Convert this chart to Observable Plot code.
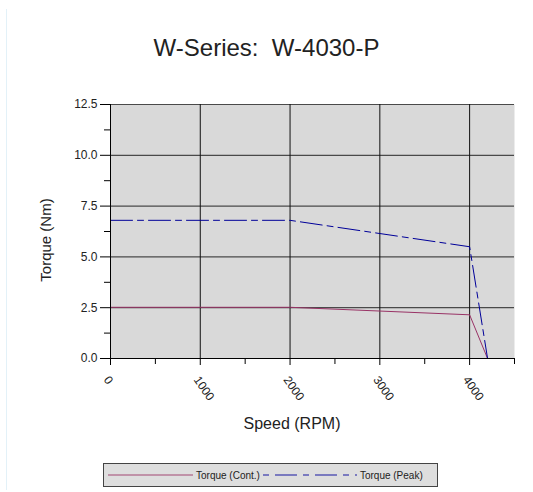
<!DOCTYPE html>
<html><head><meta charset="utf-8">
<script src="https://cdn.jsdelivr.net/npm/d3@7"></script>
<script src="https://cdn.jsdelivr.net/npm/@observablehq/plot@0.6"></script>
<style>
body{margin:0;background:#fff;font-family:"Liberation Sans",Arial,sans-serif;}
#wrap{position:relative;width:533px;height:492px;overflow:hidden;background:#fff}
#vline{position:absolute;left:6px;top:9px;width:1px;height:481px;background:#e3f1f8}
#title{position:absolute;left:0;top:34px;width:533px;text-align:center;font-size:24px;color:#222;white-space:pre}
#chart{position:absolute;left:0;top:0}
#xlabel{position:absolute;left:192px;width:200px;top:415px;text-align:center;font-size:16px;color:#222}
#ylabel{position:absolute;left:45px;top:240px;font-size:15px;color:#222;transform:translate(-50%,-50%) rotate(-90deg);white-space:nowrap}
#legend{position:absolute;left:103px;top:463px;width:333px;height:22px;border:1px solid #444;background:#dedede;font-size:10px;color:#222;display:flex;align-items:center;white-space:nowrap}
#legend svg{display:block}
</style>
</head><body>
<div id="wrap">
<div id="vline"></div>
<div id="title">W-Series:  W-4030-P</div>
<div id="chart"></div>
<div id="xlabel">Speed (RPM)</div>
<div id="ylabel">Torque (Nm)</div>
<div id="legend"></div>
</div>
<script>
const seriesNames = ["Torque (Cont.)", "Torque (Peak)"];
const speedCont = [0, 2000, 4000, 4200];
const torqueCont = [2.52, 2.52, 2.15, 0];
const speedPeak = [0, 2000, 4000, 4200];
const torquePeak = [6.8, 6.8, 5.5, 0];
const xTicks = [0, 1000, 2000, 3000, 4000];
const xMinor = [500, 1500, 2500, 3500, 4500];
const yTicks = [0, 2.5, 5, 7.5, 10, 12.5];
const yMinor = [1.25, 3.75, 6.25, 8.75, 11.25];

const colors = ["#993366", "#000099"];
const dashes = [null, "22,5,6,5"];

const cont = speedCont.map((s, i) => ({speed: s, torque: torqueCont[i]}));
const peak = speedPeak.map((s, i) => ({speed: s, torque: torquePeak[i]}));

const chart = Plot.plot({
  width: 533, height: 450,
  marginLeft: 110, marginRight: 19, marginTop: 104, marginBottom: 92,
  x: {domain: [0, 4500], label: null},
  y: {domain: [0, 12.5], label: null},
  style: {fontFamily: "'Liberation Sans', Arial, sans-serif", fontSize: "12px", color: "#222", background: "transparent", overflow: "visible"},
  marks: [
    Plot.frame({fill: "#d9d9d9", stroke: null}),
    Plot.gridY(yTicks, {stroke: "#4a4a4a", strokeOpacity: 1, strokeWidth: 1.2}),
    Plot.gridX(xTicks, {stroke: "#111", strokeOpacity: 1, strokeWidth: 1}),
    Plot.line(cont, {x: "speed", y: "torque", stroke: colors[0], strokeWidth: 1}),
    Plot.line(peak, {x: "speed", y: "torque", stroke: colors[1], strokeWidth: 1, strokeDasharray: dashes[1]}),
    Plot.ruleX([0], {stroke: "#000"}),
    Plot.ruleY([0], {stroke: "#000"}),
    Plot.axisX(xTicks, {tickSize: 7, tickFormat: () => "", stroke: "#000"}),
    Plot.axisX(xTicks, {tickSize: 0, tickPadding: 19, dx: -4, tickRotate: 55, textAnchor: "start", tickFormat: d => String(d)}),
    Plot.axisX(xMinor, {tickSize: 6, tickFormat: () => "", stroke: "#000"}),
    Plot.axisY(yTicks, {tickSize: 10, tickPadding: 3, tickFormat: d => d.toFixed(1), stroke: "#000"}),
    Plot.axisY(yMinor, {tickSize: 6, tickFormat: () => "", stroke: "#000"})
  ]
});
document.getElementById("chart").appendChild(chart);

// legend
const legend = document.getElementById("legend");
const widths = [85, 94];
seriesNames.forEach((name, i) => {
  const ns = "http://www.w3.org/2000/svg";
  const svg = document.createElementNS(ns, "svg");
  svg.setAttribute("width", widths[i]);
  svg.setAttribute("height", 10);
  svg.style.marginLeft = i === 0 ? "4px" : "3px";
  const ln = document.createElementNS(ns, "line");
  ln.setAttribute("x1", 0); ln.setAttribute("x2", widths[i]);
  ln.setAttribute("y1", 5); ln.setAttribute("y2", 5);
  ln.setAttribute("stroke", colors[i]);
  ln.setAttribute("stroke-opacity", 0.6);
  ln.setAttribute("stroke-width", 1.5);
  if (dashes[i]) ln.setAttribute("stroke-dasharray", "6,6,22,6");
  svg.appendChild(ln);
  legend.appendChild(svg);
  const sp = document.createElement("span");
  sp.textContent = name;
  sp.style.marginLeft = "3px";
  legend.appendChild(sp);
});
</script>
</body></html>
